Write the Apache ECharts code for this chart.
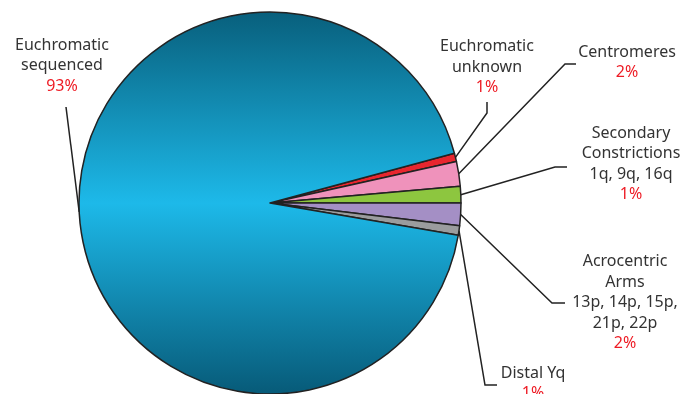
<!DOCTYPE html>
<html>
<head>
    <meta charset="utf-8">
    <title>Genome composition pie</title>
    <script src="https://cdn.jsdelivr.net/npm/echarts@6/dist/echarts.min.js"></script>
    <style>
        html, body { margin: 0; padding: 0; background: #fff; }
    </style>
</head>
<body>
    <div id="main" style="width:686px;height:394px;"></div>
    <script type="text/javascript">
        // data (slice sizes from the angles)
        var names = [
            'Euchromatic\nunknown',
            'Centromeres',
            'Secondary\nConstrictions\n1q, 9q, 16q',
            'Acrocentric\nArms\n13p, 14p, 15p,\n21p, 22p',
            'Distal Yq',
            'Euchromatic\nsequenced'
        ];
        var values = [0.7, 2.1, 1.4, 1.9, 0.8, 93.1];
        var colors = ['#e8262e', '#ef92bb', '#8dc63f', '#a48fc5', '#9b9c9e', null];

        // where each label sits: [centre x, top y, bend x, bend y, end x, end y]
        var labelPos = [
            [487, 36.5, 487, 113, 487, 102],
            [627, 42, 565, 64, 576, 64],
            [631, 123, 555, 167, 567, 167],
            [625, 251.5, 552, 303, 565, 303],
            [533, 363, 485, 385, 497, 385],
            [62, 35, 66, 107, 66, 107]
        ];

        var blue = new echarts.graphic.LinearGradient(0, 0, 0, 1, [
            { offset: 0, color: '#085f7c' },
            { offset: 0.5, color: '#1db9e9' },
            { offset: 1, color: '#075a78' }
        ]);

        var pieData = names.map(function (n, i) {
            return {
                name: n,
                value: values[i],
                itemStyle: { color: colors[i] || blue }
            };
        });

        var chart = echarts.init(document.getElementById('main'));
        var option = {
            animation: false,
            series: [{
                type: 'pie',
                center: [270, 203],
                radius: [0, 191],
                startAngle: 15.1,
                clockwise: true,
                avoidLabelOverlap: false,
                percentPrecision: 0,
                data: pieData,
                itemStyle: { borderColor: '#222', borderWidth: 1.5 },
                label: {
                    show: true,
                    position: 'outside',
                    formatter: function (p) {
                        var lines = p.name.split('\n').map(function (s) { return '{n|' + s + '}'; });
                        return lines.join('\n') + '\n{p|' + Math.round(p.percent) + '%}';
                    },
                    rich: {
                        n: { fontFamily: 'Noto Sans', fontSize: 16, color: '#333', lineHeight: 20.5, align: 'center' },
                        p: { fontFamily: 'Noto Sans', fontSize: 16, color: '#ee1c25', lineHeight: 20.5, align: 'center' }
                    }
                },
                labelLine: {
                    show: true,
                    smooth: false,
                    lineStyle: { color: '#222', width: 1.5 }
                },
                labelLayout: function (params) {
                    var lp = labelPos[params.dataIndex];
                    var edge = params.labelLinePoints ? params.labelLinePoints[0] : [lp[2], lp[3]];
                    return {
                        x: lp[0],
                        y: lp[1],
                        align: 'center',
                        verticalAlign: 'top',
                        labelLinePoints: [edge, [lp[2], lp[3]], [lp[4], lp[5]]]
                    };
                }
            }]
        };
        chart.setOption(option);
    </script>
</body>
</html>
